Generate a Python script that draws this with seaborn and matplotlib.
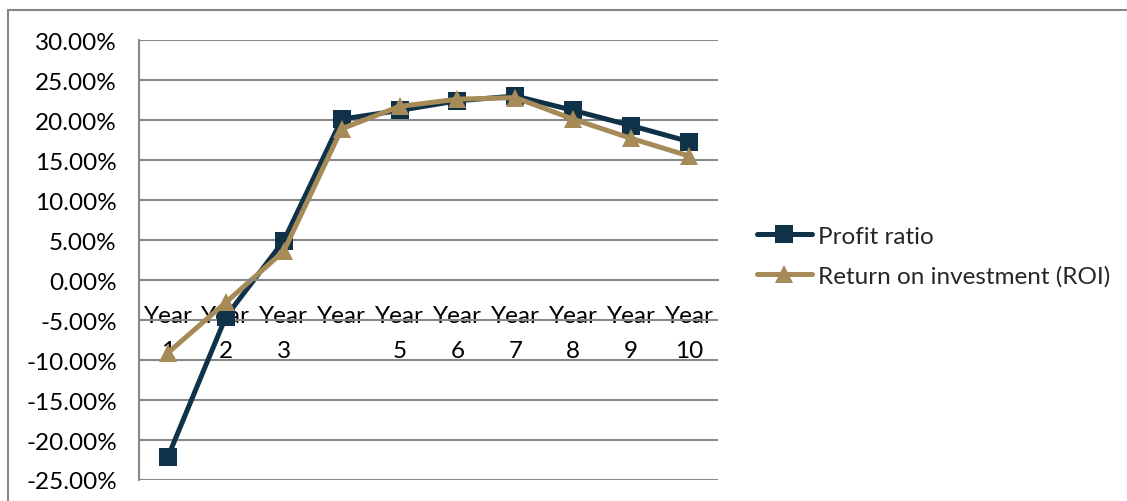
import matplotlib
matplotlib.use("Agg")
import matplotlib.pyplot as plt
from matplotlib.patches import Rectangle
from matplotlib.ticker import FixedLocator, FuncFormatter
import seaborn as sns
import pandas as pd

# Yearly ratios (percent)
years = ["Year 1", "Year 2", "Year 3", "Year 4", "Year 5",
         "Year 6", "Year 7", "Year 8", "Year 9", "Year 10"]
tick_labels = ["Year\n1", "Year\n2", "Year\n3", "Year\n", "Year\n5",
               "Year\n6", "Year\n7", "Year\n8", "Year\n9", "Year\n10"]
profit_ratio = [-22.1, -4.6, 4.9, 20.1, 21.2, 22.4, 23.0, 21.2, 19.3, 17.3]
roi = [-9.1, -2.8, 3.6, 18.9, 21.7, 22.6, 22.8, 20.1, 17.7, 15.5]

series_names = ["Profit ratio", "Return on investment (ROI)"]
colors = {"Profit ratio": "#0F3249", "Return on investment (ROI)": "#A68B58"}
markers = {"Profit ratio": "s", "Return on investment (ROI)": "^"}

df = pd.DataFrame({
    "year": years * 2,
    "value": profit_ratio + roi,
    "series": [series_names[0]] * len(years) + [series_names[1]] * len(years),
})

sns.set_theme(style="white")
plt.rcParams["font.family"] = ["Lato", "DejaVu Sans"]
FS = 17.5

fig = plt.figure(figsize=(11.27, 5.02), dpi=100)
ax = fig.add_axes([139 / 1127, 1 - 481 / 502, (718 - 139) / 1127, (481 - 41) / 502])

grid_gray = "#888888"

sns.lineplot(data=df, x="year", y="value", hue="series", style="series",
             palette=colors, markers=markers, dashes=False, sort=False,
             linewidth=3.6, markersize=13, markeredgewidth=0, ax=ax)

ax.set_xlim(-0.5, len(years) - 0.5)
ax.set_ylim(-25, 30)
ax.set_yticks(range(-25, 31, 5))
ax.yaxis.set_major_formatter(FuncFormatter(lambda v, p: f"{v:.2f}%"))
ax.grid(axis="y", color=grid_gray, linewidth=1.5)
ax.grid(axis="x", visible=False)
ax.set_axisbelow(True)

for side in ("top", "right"):
    ax.spines[side].set_visible(False)
ax.spines["left"].set_color(grid_gray)
ax.spines["left"].set_linewidth(1.5)
ax.spines["bottom"].set_position(("data", 0))
ax.spines["bottom"].set_color(grid_gray)
ax.spines["bottom"].set_linewidth(1.5)

ax.tick_params(axis="y", which="major", length=6, width=1.5, color=grid_gray,
               direction="out", pad=10, labelsize=FS, labelcolor="black")

# category labels at centers, tick marks at category boundaries
ax.set_xticks(range(len(years)))
ax.set_xticklabels(tick_labels, fontsize=FS, linespacing=1.8, va="top")
ax.tick_params(axis="x", which="major", length=0, pad=18, labelcolor="black")
ax.xaxis.set_minor_locator(FixedLocator([i + 0.5 for i in range(-1, len(years))]))
ax.tick_params(axis="x", which="minor", length=6, width=1.5, color=grid_gray,
               direction="out")
ax.set_xlabel("")
ax.set_ylabel("")

handles, labels = ax.get_legend_handles_labels()
ax.legend(handles, labels, loc="center left", bbox_to_anchor=(757 / 1127, 1 - 257 / 502),
          bbox_transform=fig.transFigure, frameon=False, fontsize=FS,
          borderaxespad=0, borderpad=0,
          handlelength=2.26, handletextpad=0.25, labelspacing=0.75)

# chart area border
fig.patches.append(Rectangle((8 / 1127, -0.05), 1.2, 1 - 11 / 502 + 0.05,
                             transform=fig.transFigure, fill=False,
                             edgecolor="#868686", linewidth=1.5))

fig.savefig("out.png", dpi=100)
